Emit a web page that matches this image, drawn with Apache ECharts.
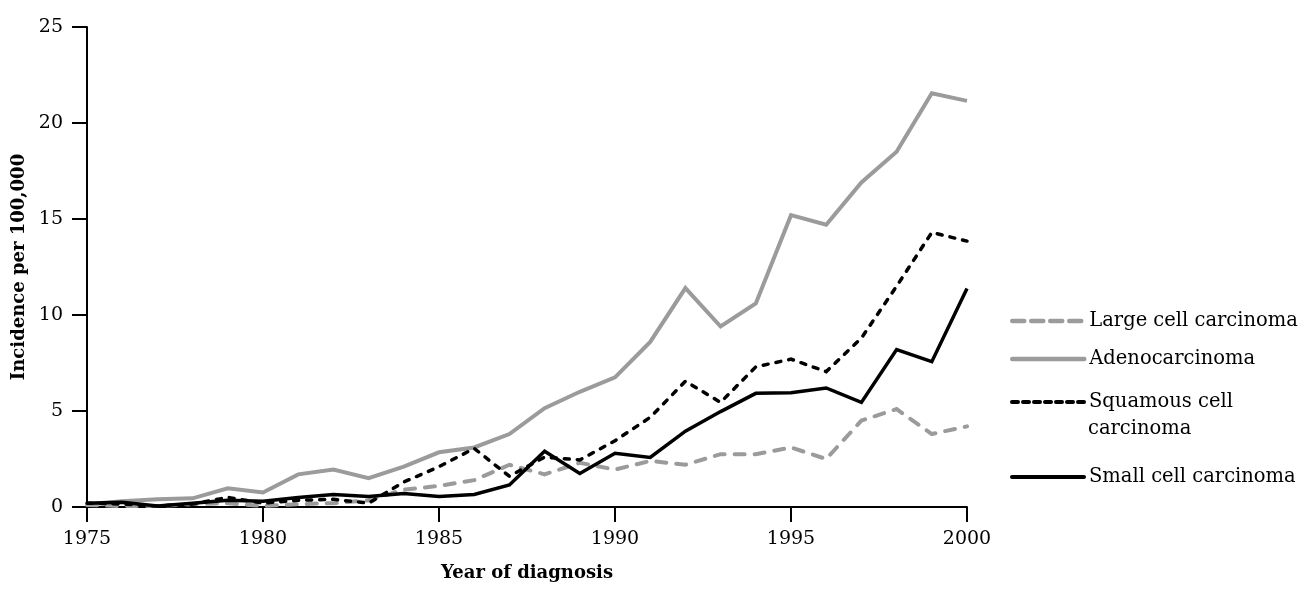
<!DOCTYPE html>
<html><head><meta charset="utf-8">
<script src="https://cdn.jsdelivr.net/npm/echarts@6/dist/echarts.min.js"></script>
<style>html,body{margin:0;padding:0;background:#fff}#c{width:1309px;height:592px}</style>
</head><body><div id="c"></div>
<script>
const years = [1975,1976,1977,1978,1979,1980,1981,1982,1983,1984,1985,1986,1987,1988,1989,1990,1991,1992,1993,1994,1995,1996,1997,1998,1999,2000];
const largeCell = [0.1,0.05,0.05,0.15,0.2,0.05,0.15,0.2,0.35,0.9,1.1,1.4,2.2,1.7,2.3,1.95,2.4,2.2,2.75,2.75,3.1,2.5,4.5,5.1,3.8,4.2];
const adeno = [0.15,0.3,0.4,0.45,0.97,0.76,1.7,1.95,1.5,2.1,2.85,3.1,3.8,5.15,6.0,6.75,8.6,11.4,9.4,10.6,15.2,14.7,16.9,18.5,21.55,21.15];
const squamous = [0.2,0.15,0.05,0.15,0.5,0.2,0.35,0.4,0.2,1.3,2.1,3.05,1.6,2.6,2.45,3.45,4.67,6.55,5.45,7.3,7.7,7.05,8.8,11.5,14.3,13.85];
const smallCell = [0.2,0.25,0.05,0.2,0.35,0.3,0.5,0.65,0.55,0.7,0.55,0.65,1.15,2.9,1.75,2.8,2.58,3.95,4.97,5.92,5.95,6.2,5.45,8.2,7.57,11.38];
const names = ['Large cell carcinoma','Adenocarcinoma','Squamous cell carcinoma','Small cell carcinoma'];
const yTicks = [0,5,10,15,20,25];
const xTicks = [1975,1980,1985,1990,1995,2000];

const FONT = 'DejaVu Serif';
const GRAY = '#9b9b9b';
function pts(arr){ return years.map((y,i)=>[y,arr[i]]); }
const styles = [
  {color:GRAY, width:4, type:[10,10], cap:'round'},
  {color:GRAY, width:4, type:'solid', cap:'butt'},
  {color:'#000', width:3.5, type:[5,8], cap:'round'},
  {color:'#000', width:3.5, type:'solid', cap:'butt'}
];
const legendDash = [[12,7],'solid',[6,5],'solid'];
const datas = [largeCell, adeno, squamous, smallCell];
const series = names.map((n,i)=>({
  name:n, type:'line', data:pts(datas[i]), symbol:'none', showSymbol:false,
  color:styles[i].color,
  lineStyle:{color:styles[i].color,width:styles[i].width,type:styles[i].type,cap:styles[i].cap,join:'miter'},
  z: i===1?1:(i===0?2:3)
}));
const legendTops = [311, 349, 392, 467];
const legends = names.map((n,i)=>({
  data:[n], orient:'vertical', left:1010, top:legendTops[i], itemWidth:72, itemHeight:24, itemGap:0, padding:0,
  itemStyle:{opacity:0},
  lineStyle:{color:styles[i].color,width:styles[i].width+0.5,type:legendDash[i],cap:'round'},
  formatter: n==='Squamous cell carcinoma' ? 'Squamous cell' : '{name}',
  textStyle:{fontFamily:FONT,fontSize:19.5,color:'#000'}
}));
const chart = echarts.init(document.getElementById('c'));
chart.setOption({
  animation:false,
  backgroundColor:'#fff',
  grid:{left:87,right:342,top:27,bottom:85,containLabel:false,outerBoundsMode:'none'},
  legend: legends,
  graphic:[{type:'text',left:1088,top:419,style:{text:'carcinoma',font:'19.5px "DejaVu Serif"',fill:'#000'}}],
  xAxis:{type:'value',min:1975,max:2000,interval:5,
    name:'Year of diagnosis',nameLocation:'middle',nameGap:57,
    nameTextStyle:{fontFamily:FONT,fontSize:18,fontWeight:'bold',color:'#000'},
    axisLine:{show:true,lineStyle:{color:'#000',width:2}},
    axisTick:{show:true,length:15,lineStyle:{color:'#000',width:2}},
    axisLabel:{fontFamily:FONT,fontSize:19,color:'#000',margin:23,formatter:v=>xTicks.includes(v)?String(v):''},
    splitLine:{show:false}},
  yAxis:{type:'value',min:0,max:25,interval:5,
    name:'Incidence per 100,000',nameLocation:'middle',nameGap:58,
    nameTextStyle:{fontFamily:FONT,fontSize:18,fontWeight:'bold',color:'#000'},
    axisLine:{show:true,lineStyle:{color:'#000',width:2}},
    axisTick:{show:true,length:15,lineStyle:{color:'#000',width:2}},
    axisLabel:{fontFamily:FONT,fontSize:19,color:'#000',margin:24,formatter:v=>yTicks.includes(v)?String(v):''},
    splitLine:{show:false}},
  series:series
});
</script></body></html>
